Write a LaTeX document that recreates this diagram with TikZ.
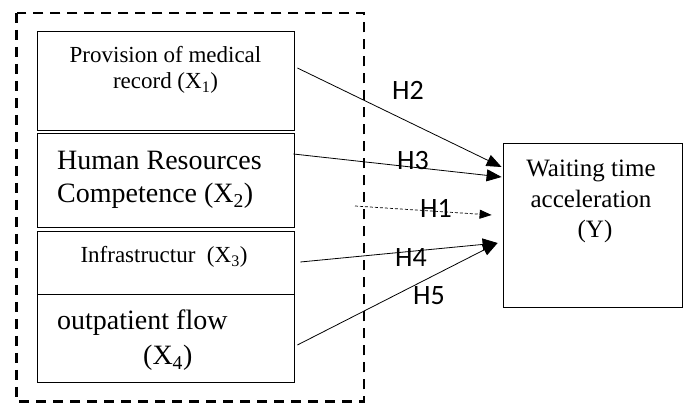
\documentclass[tikz,border=0pt]{standalone}
\usepackage{fontspec}
\setmainfont{Liberation Serif}
\newfontfamily\hfont{Carlito}
\usetikzlibrary{arrows.meta,calc}

\tikzset{
  varbox/.style={draw, thick, inner sep=0pt, minimum width=257pt},
  hyp/.style={font=\hfont\fontsize{28}{30}\selectfont, inner sep=0pt, anchor=base west},
  link/.style={line width=0.8pt, -{Triangle[length=15pt,width=12pt]}},
}

\begin{document}
\begin{tikzpicture}[x=1pt, y=-1pt, every node/.style={inner sep=0pt}]
    \useasboundingbox (0,0) rectangle (686,403);

    % --- Cornice tratteggiata ---
    \draw[line width=2.6pt, dash pattern=on 10pt off 7pt] (16.7,13) rectangle (364,401.5);

    % --- Variabili indipendenti ---
    \node[varbox, minimum height=99pt] (x1) at (165.5,80.5) {};
    \node[varbox, minimum height=94pt] (x2) at (165.5,180) {};
    \node[varbox, minimum height=63pt] (x3) at (165.5,262.5) {};
    \node[varbox, minimum height=88pt] (x4) at (165.5,338) {};

    % (base = riga finale)
    \node[anchor=base, align=center, font=\fontsize{23}{26}\selectfont] (t1) at (165.5,89)
    {Provision of medical\\record (X\textsubscript{1})};
    \node[anchor=base west, align=left, font=\fontsize{28}{33}\selectfont] (t2) at (57,203)
    {Human Resources\\Competence (X\textsubscript{2})};
    \node[anchor=base, font=\fontsize{23}{26}\selectfont] (t3) at (164,263)
    {Infrastructur\ \ (X\textsubscript{3})};
    \node[anchor=base west, align=left, font=\fontsize{28}{35}\selectfont] (t4) at (57,365)
    {outpatient flow\\\hspace*{86pt}(X\textsubscript{4})};

    % --- Variabile dipendente ---
    \node[draw, thick, minimum width=179pt, minimum height=164pt] (wait) at (592.5,225) {};
    \node[anchor=base, align=center, font=\fontsize{25}{30.5}\selectfont] (ty) at (591,238)
    {Waiting time\\acceleration\\\hspace*{8pt}(Y)};

    % --- Ipotesi ---
    \coordinate (h1s) at (355,206);
    \draw[link] ($(x1.east)+(3,-12.5)$) -- ($(wait.west)+(-1,-58)$);
    \draw[link] ($(x2.east)+(-1,-26)$) -- ($(wait.west)+(-1,-48)$);
    \draw[line width=0.7pt, dash pattern=on 3pt off 2pt, -{Triangle[length=12pt,width=9pt]}]
    (h1s) -- ($(wait.west)+(-11,-10)$);
    \draw[link] ($(x3.east)+(6,-0.5)$) -- ($(wait.west)+(-5,18)$);
    \draw[link] ($(x4.east)+(3,7)$) -- ($(wait.west)+(-5,18)$);

    \node[hyp] (h2) at (392,100) {H2};
    \node[hyp] (h3) at (397,170) {H3};
    \node[hyp] (h1) at (420,218) {H1};
    \node[hyp] (h4) at (395,267) {H4};
    \node[hyp] (h5) at (413,305) {H5};

\end{tikzpicture}
\end{document}
